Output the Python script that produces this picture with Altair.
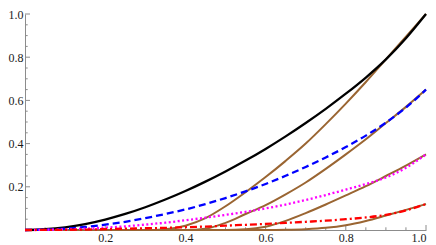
import altair as alt
import pandas as pd

# Main curves sampled on a common grid
x_grid = [0, 0.05, 0.1, 0.15, 0.2, 0.25, 0.3, 0.35, 0.4, 0.45, 0.5, 0.55,
          0.6, 0.65, 0.7, 0.75, 0.8, 0.85, 0.9, 0.95, 1.0]
black = [0, 0.0035, 0.0125, 0.0275, 0.0485, 0.0745, 0.1055, 0.141, 0.1805, 0.224, 0.271,
         0.3215, 0.3755, 0.4335, 0.4955, 0.561, 0.631, 0.706, 0.79, 0.888, 1.0]
blue = [0, 0.0015, 0.006, 0.014, 0.025, 0.038, 0.055, 0.074, 0.095, 0.12, 0.148,
        0.179, 0.213, 0.251, 0.292, 0.336, 0.384, 0.437, 0.497, 0.567, 0.65]
magenta = [0, 0.001, 0.003, 0.006, 0.011, 0.017, 0.025, 0.034, 0.045, 0.057, 0.07,
           0.084, 0.1, 0.118, 0.139, 0.162, 0.187, 0.213, 0.243, 0.288, 0.35]
red = [0, 0.0003, 0.001, 0.002, 0.004, 0.006, 0.008, 0.01, 0.013, 0.016, 0.02,
       0.024, 0.028, 0.033, 0.038, 0.043, 0.05, 0.058, 0.07, 0.091, 0.12]

# Brown curves (zero until their start, then rising)
brown1_x = [0, 0.3, 0.35, 0.4, 0.45, 0.5, 0.55, 0.6, 0.65, 0.7, 0.75, 0.8, 0.85, 0.9, 0.95, 1.0]
brown1_y = [0, 0, 0.004, 0.02, 0.055, 0.11, 0.175, 0.245, 0.32, 0.40, 0.49, 0.585, 0.685, 0.79, 0.895, 1.0]
brown2_x = [0, 0.4, 0.45, 0.5, 0.55, 0.6, 0.65, 0.7, 0.75, 0.8, 0.85, 0.9, 0.95, 1.0]
brown2_y = [0, 0, 0.006, 0.033, 0.074, 0.115, 0.165, 0.22, 0.283, 0.35, 0.42, 0.495, 0.57, 0.65]
brown3_x = [0, 0.5, 0.55, 0.6, 0.65, 0.7, 0.75, 0.8, 0.85, 0.9, 0.95, 1.0]
brown3_y = [0, 0, 0.003, 0.015, 0.042, 0.078, 0.118, 0.16, 0.203, 0.25, 0.298, 0.35]
brown4_x = [0, 0.6, 0.65, 0.7, 0.75, 0.8, 0.85, 0.9, 0.95, 1.0]
brown4_y = [0, 0, 0.001, 0.004, 0.01, 0.022, 0.042, 0.067, 0.093, 0.12]

major_ticks = [0.2, 0.4, 0.6, 0.8, 1.0]
minor_ticks = [0.05, 0.1, 0.15, 0.25, 0.3, 0.35, 0.45, 0.5, 0.55, 0.65, 0.7, 0.75,
               0.85, 0.9, 0.95]

rows = []
for name, xs, ys in [("black", x_grid, black), ("blue", x_grid, blue),
                     ("magenta", x_grid, magenta), ("red", x_grid, red),
                     ("brown1", brown1_x, brown1_y), ("brown2", brown2_x, brown2_y),
                     ("brown3", brown3_x, brown3_y), ("brown4", brown4_x, brown4_y)]:
    for xv, yv in zip(xs, ys):
        rows.append({"series": name, "x": xv, "y": yv})
df = pd.DataFrame(rows)

W, H = 401, 216
FONT = "Liberation Serif"
AX_COLOR = "#8c8c8c"

xscale = alt.Scale(domain=[0, 1], nice=False, zero=False)
yscale = alt.Scale(domain=[0, 1], nice=False, zero=False)
xaxis = alt.Axis(values=major_ticks, format=".1f", ticks=False, grid=False,
                 domainColor=AX_COLOR, domainWidth=1, labelFont=FONT, labelFontSize=12,
                 labelColor="#1a1a1a", labelPadding=2, title=None)
yaxis = alt.Axis(values=major_ticks, format=".1f", ticks=False, grid=False,
                 domainColor=AX_COLOR, domainWidth=1, labelFont=FONT, labelFontSize=12,
                 labelColor="#1a1a1a", labelPadding=2, title=None)

X = alt.X("x:Q", scale=xscale, axis=xaxis)
Y = alt.Y("y:Q", scale=yscale, axis=yaxis)


def curve(name, color, width, dash=None):
    kw = dict(color=color, strokeWidth=width, interpolate="monotone")
    if dash is not None:
        kw["strokeDash"] = dash
    return (alt.Chart(df).transform_filter(alt.datum.series == name)
            .mark_line(**kw).encode(x=X, y=Y, order="x:Q"))


BROWN = "#9a6532"
layers = [
    curve("brown1", BROWN, 2.0),
    curve("brown2", BROWN, 2.0),
    curve("brown3", BROWN, 2.0),
    curve("brown4", BROWN, 2.0),
    curve("black", "#000000", 2.3),
    curve("blue", "#0000ff", 2.3, [7, 4]),
    curve("magenta", "#ff00ff", 2.3, [2, 2.5]),
    curve("red", "#ff0000", 2.3, [7, 3, 2, 3]),
]

xt_major = pd.DataFrame({"x": major_ticks})
xt_minor = pd.DataFrame({"x": minor_ticks})
yt_major = pd.DataFrame({"y": major_ticks})
yt_minor = pd.DataFrame({"y": minor_ticks})

tick_layers = [
    alt.Chart(xt_major).mark_rule(color=AX_COLOR, strokeWidth=1).encode(
        x=X, y=alt.value(H), y2=alt.value(H - 5)),
    alt.Chart(xt_minor).mark_rule(color=AX_COLOR, strokeWidth=1).encode(
        x=X, y=alt.value(H), y2=alt.value(H - 2.7)),
    alt.Chart(yt_major).mark_rule(color=AX_COLOR, strokeWidth=1).encode(
        y=Y, x=alt.value(0), x2=alt.value(5)),
    alt.Chart(yt_minor).mark_rule(color=AX_COLOR, strokeWidth=1).encode(
        y=Y, x=alt.value(0), x2=alt.value(2.7)),
]

chart = alt.layer(*tick_layers, *layers).properties(
    width=W, height=H,
    autosize=alt.AutoSizeParams(type="none"),
    padding={"left": 17, "top": 6, "right": 2, "bottom": 16},
    background="white",
).configure_view(stroke=None)

chart.save("out.html", embed_options={"renderer": "svg", "actions": False})
